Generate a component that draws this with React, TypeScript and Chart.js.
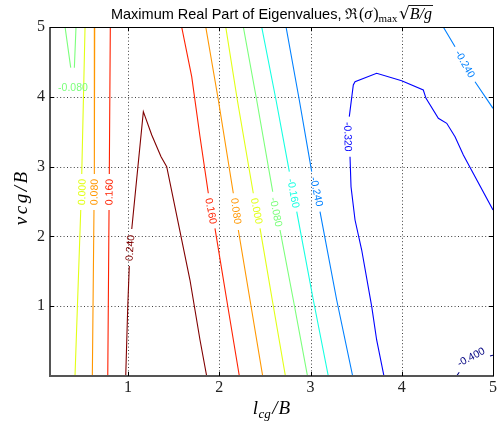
import React, { useEffect, useRef } from "react";
import { Chart, registerables } from "chart.js";

Chart.register(...registerables);

// ---------- axes ----------
const X_MIN = 0.145;
const X_MAX = 5;
const Y_MIN = 0;
const Y_MAX = 5;
const xTickValues = [1, 2, 3, 4, 5];
const yTickValues = [1, 2, 3, 4, 5];
const xGridValues = [1, 2, 3, 4];
const yGridValues = [1, 2, 3, 4];

// ---------- contour levels ----------
const levelValues = [-0.4, -0.32, -0.24, -0.16, -0.08, 0.0, 0.08, 0.16, 0.24];
const levelLabels = ["-0.400", "-0.320", "-0.240", "-0.160", "-0.080", "0.000", "0.080", "0.160", "0.240"];
const levelColors = ["#000080", "#0000ff", "#0080ff", "#15ffe2", "#7bff7b", "#e2ff15", "#ff9700", "#ff2100", "#800000"];

// ---------- contour pieces (null = break for inline label) ----------
const m080aX = [0.31, 0.372, null, 0.412, 0.43];
const m080aY = [5.0, 4.417, null, 4.417, 5.0];
const m080aLabel = [0.397, 4.126];

const z000aX = [0.529, 0.493, null, 0.482, 0.419];
const z000aY = [5.0, 2.894, null, 2.378, 0];
const z000aLabel = [0.496, 2.636];

const p080aX = [0.635, 0.631, null, 0.627, 0.609];
const p080aY = [5.0, 2.894, null, 2.378, 0];
const p080aLabel = [0.63, 2.636];

const p160aX = [0.806, 0.795, null, 0.792, 0.778];
const p160aY = [5.0, 2.894, null, 2.378, 0];
const p160aLabel = [0.794, 2.636];

const p240X = [0.975, 0.997, 1.014, null, 1.041, 1.168, 1.26, 1.362, 1.424, 1.679, 1.789, 1.862];
const p240Y = [0, 0.989, 1.576, null, 2.106, 3.787, 3.453, 3.142, 2.999, 1.375, 0.516, 0];
const p240Label = [1.022, 1.834];

const p160bX = [1.588, 1.698, 1.789, 1.88, null, 1.953, 2.082, 2.22];
const p160bY = [5.0, 4.288, 3.428, 2.618, null, 2.116, 1.089, 0];
const p160bLabel = [1.91, 2.364];

const p080bX = [1.852, 1.99, 2.154, null, 2.209, 2.337, 2.476];
const p080bY = [5.0, 3.954, 2.618, null, 2.092, 1.089, 0];
const p080bLabel = [2.184, 2.364];

const z000bX = [2.071, 2.198, 2.373, null, 2.447, 2.581, 2.725];
const z000bY = [5.0, 3.954, 2.618, null, 2.116, 1.089, 0];
const z000bLabel = [2.41, 2.364];

const m080bX = [2.264, 2.41, 2.586, null, 2.666, 2.812, 2.967];
const m080bY = [5.0, 3.954, 2.64, null, 2.092, 1.089, 0];
const m080bLabel = [2.622, 2.35];

const m160X = [2.465, 2.622, 2.768, null, 2.849, 3.031, 3.195];
const m160Y = [5.0, 3.954, 2.927, null, 2.354, 1.089, 0];
const m160Label = [2.812, 2.618];

const m240aX = [2.732, 2.877, 3.013, null, 3.104, 3.287, 3.462];
const m240aY = [5.0, 3.954, 2.927, null, 2.354, 1.089, 0];
const m240aLabel = [3.068, 2.64];

const m240bX = [4.455, 4.584, null, 4.803, 5.0];
const m240bY = [5.0, 4.718, null, 4.216, 3.835];
const m240bLabel = [4.693, 4.47];

const m320X = [5.0, 4.675, 4.584, 4.493, 4.401, 4.266, 4.236, 3.999, 3.725, 3.488, 3.469, 3.425, null, 3.433, 3.444, 3.488, 3.561, 3.671, 3.725, 3.805];
const m320Y = [2.378, 3.166, 3.428, 3.62, 3.692, 3.978, 4.097, 4.231, 4.337, 4.216, 4.169, 3.715, null, 3.142, 2.712, 2.235, 1.805, 0.993, 0.516, 0];
const m320Label = [3.41, 3.428];

const m400X = [4.601, 4.63, null, 4.967, 5.0];
const m400Y = [0, 0.053, null, 0.287, 0.297];
const m400Label = [4.759, 0.272];

type Piece = { level: number; xs: (number | null)[]; ys: (number | null)[]; label: number[] };

const pieces: Piece[] = [
  { level: 4, xs: m080aX, ys: m080aY, label: m080aLabel },
  { level: 5, xs: z000aX, ys: z000aY, label: z000aLabel },
  { level: 6, xs: p080aX, ys: p080aY, label: p080aLabel },
  { level: 7, xs: p160aX, ys: p160aY, label: p160aLabel },
  { level: 8, xs: p240X, ys: p240Y, label: p240Label },
  { level: 7, xs: p160bX, ys: p160bY, label: p160bLabel },
  { level: 6, xs: p080bX, ys: p080bY, label: p080bLabel },
  { level: 5, xs: z000bX, ys: z000bY, label: z000bLabel },
  { level: 4, xs: m080bX, ys: m080bY, label: m080bLabel },
  { level: 3, xs: m160X, ys: m160Y, label: m160Label },
  { level: 2, xs: m240aX, ys: m240aY, label: m240aLabel },
  { level: 2, xs: m240bX, ys: m240bY, label: m240bLabel },
  { level: 1, xs: m320X, ys: m320Y, label: m320Label },
  { level: 0, xs: m400X, ys: m400Y, label: m400Label },
];

// ---------- texts ----------
const titleMain = "Maximum Real Part of Eigenvalues, ";
const xTitleParts = ["l", "cg", "/", "B"];
const yTitleParts = ["v", "c", "g", "/", "B"];

type Run = { t: string; f: string; dy?: number; gap?: number; over?: boolean };

function measureRuns(ctx: CanvasRenderingContext2D, runs: Run[]) {
  const widths = runs.map((r) => {
    ctx.font = r.f;
    return ctx.measureText(r.t).width;
  });
  let total = 0;
  runs.forEach((r, i) => {
    total += widths[i];
    if (i < runs.length - 1) total += r.gap || 0;
  });
  return { widths, total };
}

function drawRuns(ctx: CanvasRenderingContext2D, runs: Run[], cx: number, baseline: number, color: string) {
  ctx.save();
  ctx.fillStyle = color;
  ctx.strokeStyle = color;
  ctx.textAlign = "left";
  ctx.textBaseline = "alphabetic";
  const { widths, total } = measureRuns(ctx, runs);
  let x = cx - total / 2;
  runs.forEach((r, i) => {
    ctx.font = r.f;
    ctx.fillText(r.t, x, baseline + (r.dy || 0));
    if (r.over) {
      ctx.lineWidth = 0.9;
      ctx.beginPath();
      ctx.moveTo(x - 1, baseline - 13.5);
      ctx.lineTo(x + widths[i] + 1, baseline - 13.5);
      ctx.stroke();
    }
    x += widths[i] + (r.gap || 0);
  });
  ctx.restore();
}

const SERIF = "'Liberation Serif', 'DejaVu Serif', serif";
const SANS = "'Liberation Sans', Arial, sans-serif";

const decorPlugin = {
  id: "decor",
  beforeDatasetsDraw(chart: any) {
    const { ctx, chartArea: a, scales } = chart;
    const xs = scales.x;
    const ys = scales.y;
    ctx.save();
    ctx.strokeStyle = "rgba(0,0,0,0.75)";
    ctx.lineWidth = 1;
    ctx.setLineDash([1, 2.4]);
    xGridValues.forEach((v) => {
      const px = Math.round(xs.getPixelForValue(v)) + 0.5;
      ctx.beginPath();
      ctx.moveTo(px, a.top);
      ctx.lineTo(px, a.bottom);
      ctx.stroke();
    });
    yGridValues.forEach((v) => {
      const py = Math.round(ys.getPixelForValue(v)) + 0.5;
      ctx.beginPath();
      ctx.moveTo(a.left, py);
      ctx.lineTo(a.right, py);
      ctx.stroke();
    });
    ctx.restore();
  },
  afterDatasetsDraw(chart: any) {
    const { ctx, chartArea: a, scales } = chart;
    const xs = scales.x;
    const ys = scales.y;

    // contour labels
    ctx.save();
    ctx.font = `10.5px ${SANS}`;
    ctx.textAlign = "center";
    ctx.textBaseline = "middle";
    pieces.forEach((p) => {
      const gi = p.xs.indexOf(null);
      let ang = 0;
      if (gi > 0) {
        const x1 = xs.getPixelForValue(p.xs[gi - 1] as number);
        const y1 = ys.getPixelForValue(p.ys[gi - 1] as number);
        const x2 = xs.getPixelForValue(p.xs[gi + 1] as number);
        const y2 = ys.getPixelForValue(p.ys[gi + 1] as number);
        ang = Math.atan2(y2 - y1, x2 - x1);
        if (ang > Math.PI / 2) ang -= Math.PI;
        if (ang < -Math.PI / 2) ang += Math.PI;
      }
      const lx = xs.getPixelForValue(p.label[0]);
      const ly = ys.getPixelForValue(p.label[1]);
      ctx.save();
      ctx.translate(lx, ly);
      ctx.rotate(ang);
      ctx.fillStyle = levelColors[p.level];
      ctx.fillText(levelLabels[p.level], 0, 0.5);
      ctx.restore();
    });
    ctx.restore();

    // frame
    ctx.save();
    ctx.setLineDash([]);
    ctx.strokeStyle = "#000";
    ctx.lineWidth = 1;
    ctx.beginPath();
    ctx.moveTo(a.left, a.top + 0.5);
    ctx.lineTo(a.right + 0.5, a.top + 0.5);
    ctx.lineTo(a.right + 0.5, a.bottom);
    ctx.stroke();
    ctx.strokeStyle = "#555";
    ctx.lineWidth = 2;
    ctx.beginPath();
    ctx.moveTo(a.left, a.top);
    ctx.lineTo(a.left, a.bottom);
    ctx.lineTo(a.right + 1, a.bottom);
    ctx.stroke();
    // inward ticks
    ctx.strokeStyle = "#000";
    ctx.lineWidth = 1;
    const tl = 4;
    xTickValues.forEach((v) => {
      const px = Math.round(xs.getPixelForValue(v)) + 0.5;
      ctx.beginPath();
      ctx.moveTo(px, a.bottom);
      ctx.lineTo(px, a.bottom - tl);
      ctx.moveTo(px, a.top);
      ctx.lineTo(px, a.top + tl);
      ctx.stroke();
    });
    yTickValues.forEach((v) => {
      const py = Math.round(ys.getPixelForValue(v)) + 0.5;
      ctx.beginPath();
      ctx.moveTo(a.left, py);
      ctx.lineTo(a.left + tl, py);
      ctx.moveTo(a.right, py);
      ctx.lineTo(a.right - tl, py);
      ctx.stroke();
    });
    ctx.restore();
  },
  afterDraw(chart: any) {
    const { ctx, chartArea: a } = chart;
    const cx = (a.left + a.right) / 2;
    // title
    const titleRuns: Run[] = [
      { t: titleMain, f: `14.5px ${SANS}` },
      { t: "ℜ", f: `15px 'DejaVu Serif', serif`, gap: 0.5 },
      { t: "(", f: `16px ${SERIF}` },
      { t: "σ", f: `italic 16px ${SERIF}`, gap: 1 },
      { t: ")", f: `16px ${SERIF}` },
      { t: "max", f: `11px ${SERIF}`, dy: 3, gap: 1.5 },
      { t: "√", f: `17px 'DejaVu Sans', sans-serif` },
      { t: "B/g", f: `italic 16px ${SERIF}`, over: true },
    ];
    drawRuns(ctx, titleRuns, cx, 19, "#000");

    // x title
    const xRuns: Run[] = [
      { t: xTitleParts[0], f: `italic 19px ${SERIF}`, gap: 0.5 },
      { t: xTitleParts[1], f: `italic 13px ${SERIF}`, dy: 4, gap: 1.5 },
      { t: xTitleParts[2], f: `italic 19px ${SERIF}`, gap: 1 },
      { t: xTitleParts[3], f: `italic 19px ${SERIF}` },
    ];
    drawRuns(ctx, xRuns, cx, 414, "#000");

    // y title (rotated)
    const yRuns: Run[] = yTitleParts.map((t, i) => ({
      t,
      f: `italic 19px ${SERIF}`,
      gap: i < yTitleParts.length - 1 ? 2.5 : 0,
    }));
    ctx.save();
    ctx.translate(27, (a.top + a.bottom) / 2 - 3);
    ctx.rotate(-Math.PI / 2);
    drawRuns(ctx, yRuns, 0, 0, "#000");
    ctx.restore();
  },
};

export default function App() {
  const canvasRef = useRef<HTMLCanvasElement | null>(null);

  useEffect(() => {
    const canvas = canvasRef.current;
    if (!canvas) return;
    const tickFont = { family: SERIF, size: 16 };
    const chart = new Chart(canvas, {
      type: "scatter",
      data: {
        datasets: pieces.map((p) => ({
          label: levelLabels[p.level] + " (" + levelValues[p.level] + ")",
          data: p.xs.map((x, i) => ({
            x: x === null ? NaN : x,
            y: p.ys[i] === null ? NaN : (p.ys[i] as number),
          })),
          showLine: true,
          spanGaps: false,
          borderColor: levelColors[p.level],
          backgroundColor: levelColors[p.level],
          borderWidth: 1.1,
          pointRadius: 0,
          pointHoverRadius: 0,
          fill: false,
          tension: 0,
        })),
      },
      options: {
        animation: false,
        responsive: false,
        devicePixelRatio: 1,
        events: [],
        layout: { padding: { top: 27, right: 7, left: 0, bottom: 0 } },
        plugins: {
          legend: { display: false },
          tooltip: { enabled: false },
          title: { display: false },
        },
        scales: {
          x: {
            type: "linear",
            min: X_MIN,
            max: X_MAX,
            grid: { display: false, drawTicks: false },
            border: { display: false },
            afterBuildTicks: (s: any) => {
              s.ticks = xTickValues.map((v) => ({ value: v }));
            },
            afterFit: (s: any) => {
              s.height = 47;
            },
            ticks: {
              font: tickFont,
              color: "#222",
              padding: 2,
              maxRotation: 0,
              autoSkip: false,
              callback: (v: any) => String(v),
            },
          },
          y: {
            type: "linear",
            min: Y_MIN,
            max: Y_MAX,
            grid: { display: false, drawTicks: false },
            border: { display: false },
            afterBuildTicks: (s: any) => {
              s.ticks = yTickValues.map((v) => ({ value: v }));
            },
            afterFit: (s: any) => {
              s.width = 50;
            },
            ticks: {
              font: tickFont,
              color: "#222",
              padding: 5,
              autoSkip: false,
              callback: (v: any) => String(v),
            },
          },
        },
      },
      plugins: [decorPlugin],
    } as any);
    return () => chart.destroy();
  }, []);

  return (
    <div style={{ position: "absolute", left: 0, top: 0, width: 500, height: 423, background: "#fff" }}>
      <canvas ref={canvasRef} width={500} height={423} style={{ display: "block" }} />
    </div>
  );
}
